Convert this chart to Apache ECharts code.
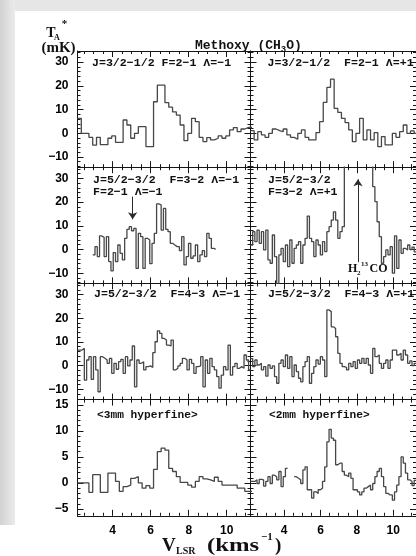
<!DOCTYPE html>
<html>
<head>
<meta charset="utf-8">
<script src="https://cdn.jsdelivr.net/npm/echarts@6/dist/echarts.min.js"></script>
<style>
  html, body { margin: 0; padding: 0; background: #ffffff; }
  #chart { width: 416px; height: 556px; }
</style>
</head>
<body>
<div id="chart"></div>
<script>
// ---- axes -----------------------------------------------------------
const velocityRange = [2.15, 11.25];                 // km/s
const velocityTicksMajor = [4, 6, 8, 10];
const velocityTicksMinor = [2.5, 3, 3.5, 4.5, 5, 5.5, 6.5, 7, 7.5, 8.5, 9, 9.5, 10.5, 11];

const tempRangeUpper = [-14.3, 34.7];                // mK, rows 1-3
const tempTicksUpper = [-10, 0, 10, 20, 30];
const tempMinorUpper = [-14, -12, -8, -6, -4, -2, 2, 4, 6, 8, 12, 14, 16, 18, 22, 24, 26, 28, 32, 34];

const tempRangeLower = [-6.3, 16];                   // mK, averaged hyperfine row
const tempTicksLower = [-5, 0, 5, 10, 15];
const tempMinorLower = [-6, -4, -3, -2, -1, 1, 2, 3, 4, 6, 7, 8, 9, 11, 12, 13, 14, 16];

// ---- channel grids ----------------------------------------------------
const wideChannel = 0.2;      // km/s
const narrowChannel = 0.12;   // km/s
const bandStart = 2.15;       // first channel edge
const partialStart = 2.95;    // first channel edge of the J=5/2-3/2 F=3-2 A=-1 spectrum

// ---- spectra (T_A*, mK) ------------------------------------------------
const j32F21Am = [6.3, 0, 0, -1.7, -5.0, -1.7, -4.8, -4.8, -2.1, -1.1,
  -3.8, -3.8, 5.6, 3.5, -2.1, 0, 2.8, 2.8, -5.6, -5.6,
  13.3, 20.3, 20.3, 12.9, 11, 9, 7.7, 3.5, -3.1, 0,
  6.3, 4.9, -1.7, -3.5, -1.8, -2.8, -2.1, -1.1, -2.1, -1.1,
  1.4, 2.4, 0.7, 1.8, 2.5, 2.5];

const j32F21Ap = [1.1, -2.8, 0.7, -0.7, -1.7, 0, 1.8, 1.1, 0.7, 1.8,
  -0.7, -1.7, -2.5, 0, 1.4, -1.7, -2.8, -2.8, 0.3, 4.9,
  13, 19.4, 22.8, 10.5, 8.8, 6.3, 4.5, 1.4, -3.5, 0,
  6.3, -2.8, 1.4, -2.8, 0.3, -5.6, -1.4, -4.9, -4.9, 0,
  -1.7, 0.7, 3.5, 0, 1, 0];

const j52F32Am = [-2.3, 1.2, -3.0, 5.7, 5.1, -3.0, 5.4, -5.1, -9, -1.3,
  -5.1, 1.9, -1.6, -4.4, 4.7, 8.5, 9.6, 7.9, 8.9, -8,
  6.8, 5.4, -8, 4.7, 4.0, -6, 2.6, 6.8, 19.2, 18.8,
  8.2, 17.3, 8.5, 7.5, 2.6, 1.9, 1.2, 1.2, -0.5, 5.4,
  -6.5, -3.0, 2.6, -3.7, -2.7, 1.9, -5.1, -2.3, -0.5, -3.0,
  6.8, 4.7, 0.5, 0.1];

const j52F32Ap = [1.9, 7.5, 3.3, 8.2, 2.6, 7.5, -0.2, 8.2, -4.4, -5.8,
  6.1, -3.0, -16, -2.3, 0.5, -5.1, 1.9, -7.2, 4.0, -5.8,
  0.5, 1.9, 3.3, -5.8, 1.9, 4.7, 14.1, 4.7, 3.3, -3.0,
  4.0, 1.9, -2.3, 3.3, -0.9, 7.5, 9.6, 12.4, 15.9, 12.4,
  4.7, 7.5, 9.6, 45, 60, 70, 75, 75, 70, 62,
  55, 48, 44, 42, 40, 38, 26.5, 20.2, 11.7, 5.4,
  -5.8, -3.0, -0.2, -2.3, 1.2, -10, 5.7, -8, 4.0, -1.6,
  0.5, -0.2, 1.9, 0, 1, -1];

const j52F43Am = [6.6, 6.6, 7.3, -6.1, 2.4, 3.8, -5.8, 3.8, -1.8, -11,
  3.8, 3.1, 2.4, 1.0, 3.1, -3.2, 1.0, -1.5, 1.7, 2.7,
  -3.2, 3.8, -0.1, 2.4, 8.3, -8.9, 2.4, 1.0, 1.7, -1.8,
  -0.4, -0.1, -0.7, 5.5, 10.1, 14.7, 13.6, 11.5, 10.8, 8.7,
  8.3, 10.8, -1.8, -1.1, -0.1, 1.0, 3.1, 2.4, -1.8, 2.7,
  1.0, -3.2, -0.4, -0.1, 3.8, -8.9, 2.4, -3.2, 3.1, -0.4,
  -1.8, -4.6, -9.5, -4.0, -0.4, -1.8, 8.7, -4.0, -0.4, 1.0,
  -1.1, -0.4, -1.1, 4.5, 2.4, -1.8];

const j52F43Ap = [3.0, -0.4, 2.4, 0.3, 1.0, -1.8, -0.4, -4.4, 0.3, -1.1,
  -0.1, -4.6, -7.4, 1.0, 2.4, -0.4, 4.5, -1.1, 3.8, -4.6,
  0.3, -2.5, -5.3, -6.8, -0.4, 1.7, 3.8, -7.4, -3.2, -0.4,
  2.4, 0.7, 3.8, 2.4, -4.6, 23.5, 22.8, 16.4, 15.7, 12.2,
  5.2, 1.0, -0.4, -0.7, -1.8, 1.0, -0.4, 1.7, -1.1, 2.4,
  1.0, 3.1, 1.0, 3.1, 0.3, -3.2, 7.3, 3.8, 4.5, 1.0,
  -1.1, 1.0, 2.4, -1.1, 2.4, 6.6, 6.6, 4.5, 5.2, 2.4,
  6.6, 4.5, 1.0, 2.0, 0, 1.0];

const hyperfine3mm = [0, 0, 0, -1.8, 1.6, 1.6, -1.8, -1.8, 1.9, 1.9,
  0.3, -1.6, -0.7, -0.4, 0.9, 1.2, 0, -1.0, -0.5, -1.0,
  2.6, 6.0, 6.7, 6.3, 2.8, 2.2, 1.2, 0.1, 0.1, -0.4,
  -0.8, 0.3, 1.2, 0.8, 0.6, 0.3, 1.1, 0.3, -0.4, -0.4,
  -0.4, -0.4, -1.0, -1.0, -1.6, -1.6];

const hyperfine2mm = [0.3, 0.3, 0.6, -0.1, 0.7, 0.6, -0.6, 0.3, 1.2, -0.1,
  1.5, 1.2, 0.6, 2.2, -0.7, 1.2, 2.8, null, null, null,
  1.2, 0.9, 0.6, -0.1, 2.5, 3.1, -1.3, -1.3, -2.9, -1.7,
  -2.0, -1.3, -1.0, 0.3, 3.1, 7.9, 10.3, 8.6, 8.2, 3.5,
  3.8, 3.8, 2.2, 1.5, 1.2, 1.9, 0.9, -1.3, -1.3, -1.7,
  -2.3, -1.7, -1.0, -0.7, -0.4, -1.3, -0.1, 1.2, 2.2, 2.8,
  1.2, -0.7, -2.0, -2.3, -2.3, -3.3, -1.7, -0.4, 1.2, 5.0,
  3.8, 1.9, 0.6, 0.3, -0.5, 0.5];

// line-identification arrows: [velocity, from T, to T]
const arrowBlend = [5.05, 22.3, 12.7];
const arrowH213CO = [8.06, -5.3, 29.6];

// ---- layout -----------------------------------------------------------
const colLeft = [77.5, 250.5];
const colWidth = 173;
const rowTop = [51, 167.2, 283.4, 399.6];
const rowHeight = 116.2;

const AXIS_COLOR = '#161616';
const TRACE_COLOR = '#474747';
const TICK_FONT = '"Liberation Sans", Arial, sans-serif';
const MONO_FONT = '"Liberation Mono", "DejaVu Sans Mono", monospace';
const SERIF_FONT = '"Liberation Serif", "DejaVu Serif", serif';

const panels = [
  { row: 0, col: 0, values: j32F21Am, start: bandStart, width: wideChannel },
  { row: 0, col: 1, values: j32F21Ap, start: bandStart, width: wideChannel },
  { row: 1, col: 0, values: j52F32Am, start: partialStart, width: narrowChannel, arrow: arrowBlend },
  { row: 1, col: 1, values: j52F32Ap, start: bandStart, width: narrowChannel, arrow: arrowH213CO },
  { row: 2, col: 0, values: j52F43Am, start: bandStart, width: narrowChannel },
  { row: 2, col: 1, values: j52F43Ap, start: bandStart, width: narrowChannel },
  { row: 3, col: 0, values: hyperfine3mm, start: bandStart, width: wideChannel },
  { row: 3, col: 1, values: hyperfine2mm, start: bandStart, width: narrowChannel }
];

// channel histogram: every channel drawn flat across its own width
function histogram(start, width, values) {
  const pts = [];
  values.forEach((t, i) => {
    const x0 = start + i * width;
    if (t === null) { pts.push([x0, '-']); return; }
    pts.push([x0, t], [x0 + width, t]);
  });
  return pts;
}

const minusSign = v => String(v).replace('-', '\u2212');

function velocityAxes(gi, withLabels) {
  const common = {
    type: 'value', gridIndex: gi, min: velocityRange[0], max: velocityRange[1],
    splitLine: { show: false }, axisLabel: { show: false },
    axisLine: { show: false, onZero: false }
  };
  const line = { show: true, onZero: false, lineStyle: { color: AXIS_COLOR, width: 1 } };
  const major = { show: true, inside: true, length: 6, customValues: velocityTicksMajor,
                  lineStyle: { color: AXIS_COLOR, width: 1 } };
  const minor = Object.assign({}, major, { length: 3, customValues: velocityTicksMinor });
  const label = withLabels ? {
    show: true, customValues: velocityTicksMajor, margin: 9, color: '#000',
    fontSize: 12, fontFamily: TICK_FONT, fontWeight: 'bold', formatter: minusSign
  } : { show: false };
  return [
    Object.assign({}, common, { position: 'bottom', axisLine: line, axisTick: major, axisLabel: label }),
    Object.assign({}, common, { position: 'bottom', axisTick: minor }),
    Object.assign({}, common, { position: 'top', axisLine: line, axisTick: major }),
    Object.assign({}, common, { position: 'top', axisTick: minor })
  ];
}

function tempAxes(gi, lower, withLabels) {
  const range = lower ? tempRangeLower : tempRangeUpper;
  const majorVals = lower ? tempTicksLower : tempTicksUpper;
  const minorVals = lower ? tempMinorLower : tempMinorUpper;
  const common = {
    type: 'value', gridIndex: gi, min: range[0], max: range[1],
    splitLine: { show: false }, axisLabel: { show: false },
    axisLine: { show: false, onZero: false }
  };
  const line = { show: true, onZero: false, lineStyle: { color: AXIS_COLOR, width: 1 } };
  const major = { show: true, inside: true, length: 6, customValues: majorVals,
                  lineStyle: { color: AXIS_COLOR, width: 1 } };
  const minor = Object.assign({}, major, { length: 3, customValues: minorVals });
  const label = withLabels ? {
    show: true, customValues: majorVals, margin: 9, color: '#000',
    fontSize: 12, fontFamily: TICK_FONT, fontWeight: 'bold', formatter: minusSign
  } : { show: false };
  return [
    Object.assign({}, common, { position: 'left', axisLine: line, axisTick: major, axisLabel: label }),
    Object.assign({}, common, { position: 'left', axisTick: minor }),
    Object.assign({}, common, { position: 'right', axisLine: line, axisTick: major }),
    Object.assign({}, common, { position: 'right', axisTick: minor })
  ];
}

const grid = [], xAxis = [], yAxis = [], series = [];
panels.forEach((p, gi) => {
  grid.push({ left: colLeft[p.col], top: rowTop[p.row], width: colWidth, height: rowHeight, containLabel: false });
  xAxis.push(...velocityAxes(gi, p.row === 3));
  yAxis.push(...tempAxes(gi, p.row === 3, p.col === 0));
  const s = {
    type: 'line', xAxisIndex: gi * 4, yAxisIndex: gi * 4,
    data: histogram(p.start, p.width, p.values),
    showSymbol: false, symbol: 'none', connectNulls: false, clip: true,
    lineStyle: { color: TRACE_COLOR, width: 1.3 }, z: 3
  };
  if (p.arrow) {
    s.markLine = {
      silent: true, animation: false, symbol: ['none', 'arrow'], symbolSize: 7,
      lineStyle: { color: '#2a2a2a', width: 1, type: 'solid' },
      label: { show: false },
      data: [[{ coord: [p.arrow[0], p.arrow[1]] }, { coord: [p.arrow[0], p.arrow[2]] }]]
    };
  }
  series.push(s);
});

// ---- text -------------------------------------------------------------
function txt(x, y, text, font, align, scaleX) {
  return {
    type: 'text', x: x, y: y, z: 10, silent: true, scaleX: scaleX || 1,
    style: {
      text: text, font: font, fill: '#111',
      align: align || 'left', verticalAlign: 'middle',
      textAlign: align || 'left', textVerticalAlign: 'middle'
    }
  };
}

const labelFont = 'bold 11.6px ' + MONO_FONT;
const texts = [
  // title
  txt(195, 46, 'Methoxy (CH', 'bold 13px ' + MONO_FONT),
  txt(280.8, 50, '3', 'bold 9px ' + MONO_FONT),
  txt(286.2, 46, 'O)', 'bold 13px ' + MONO_FONT),
  // ordinate title
  txt(51, 33, 'T', 'bold 14px ' + SERIF_FONT, 'center'),
  txt(57, 37.5, 'A', 'bold 8px ' + SERIF_FONT, 'center'),
  txt(64.5, 24, '*', 'bold 11px ' + SERIF_FONT, 'center'),
  txt(58.5, 48, '(mK)', 'bold 15px ' + SERIF_FONT, 'center'),
  // abscissa title
  txt(162, 546, 'V', 'bold 19px ' + SERIF_FONT),
  txt(176, 551.5, 'LSR', 'bold 10px ' + SERIF_FONT),
  txt(207, 546, '(kms', 'bold 19px ' + SERIF_FONT, 'left', 1.3),
  txt(261, 537.5, '\u22121', 'bold 11px ' + SERIF_FONT),
  txt(275, 546, ')', 'bold 19px ' + SERIF_FONT),
  // transition labels
  txt(92, 63.5, 'J=3/2\u22121/2 F=2\u22121 \u039B=\u22121', labelFont),
  txt(267.5, 63.5, 'J=3/2\u22121/2  F=2\u22121 \u039B=+1', labelFont),
  txt(93, 180, 'J=5/2\u22123/2  F=3\u22122 \u039B=\u22121', labelFont),
  txt(93, 192, 'F=2\u22121 \u039B=\u22121', labelFont),
  txt(268, 180, 'J=5/2\u22123/2', labelFont),
  txt(268, 192, 'F=3\u22122 \u039B=+1', labelFont),
  txt(94, 294, 'J=5/2\u22123/2  F=4\u22123 \u039B=\u22121', labelFont),
  txt(268, 294, 'J=5/2\u22123/2  F=4\u22123 \u039B=+1', labelFont),
  txt(97, 415.5, '<3mm hyperfine>', 'bold 11.2px ' + MONO_FONT),
  txt(269, 415.5, '<2mm hyperfine>', 'bold 11.2px ' + MONO_FONT),
  // blended line identification
  txt(348, 269, 'H', 'bold 12px ' + SERIF_FONT),
  txt(357, 273, '2', 'bold 7px ' + SERIF_FONT),
  txt(361, 264.5, '13', 'bold 7px ' + SERIF_FONT),
  txt(369.5, 269, 'CO', 'bold 12px ' + SERIF_FONT)
];

const frame = [
  { type: 'rect', z: -5, silent: true, shape: { x: 0, y: 0, width: 416, height: 11 },
    style: { fill: '#e6e6e6' } },
  { type: 'rect', z: -5, silent: true, shape: { x: 0, y: 0, width: 15, height: 525 },
    style: { fill: { type: 'linear', x: 0, y: 0, x2: 1, y2: 0,
      colorStops: [{ offset: 0, color: '#d2d2d2' }, { offset: 1, color: '#ebebeb' }] } } }
];

const chart = echarts.init(document.getElementById('chart'), null, { renderer: 'canvas', width: 416, height: 556 });
chart.setOption({
  backgroundColor: '#ffffff',
  animation: false,
  grid: grid,
  xAxis: xAxis,
  yAxis: yAxis,
  series: series,
  graphic: { elements: frame.concat(texts) }
});
</script>
</body>
</html>
